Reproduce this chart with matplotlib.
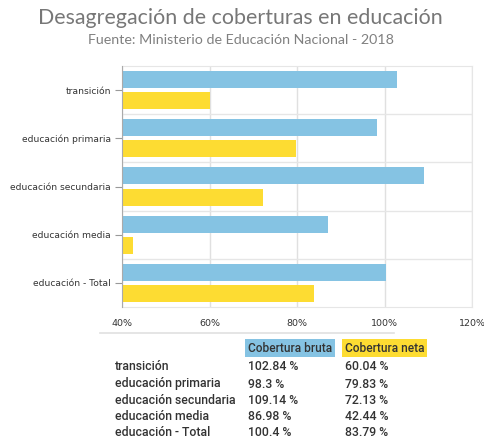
import matplotlib
matplotlib.use("Agg")
import matplotlib.pyplot as plt
import numpy as np

categorias = ["transición", "educación primaria", "educación secundaria",
              "educación media", "educación - Total"]
bruta = [102.84, 98.3, 109.14, 86.98, 100.4]
neta = [60.04, 79.83, 72.13, 42.44, 83.79]
bruta_txt = ["102.84 %", "98.3 %", "109.14 %", "86.98 %", "100.4 %"]
neta_txt = ["60.04 %", "79.83 %", "72.13 %", "42.44 %", "83.79 %"]
ticks_x = [40, 60, 80, 100, 120]

AZUL = "#85c3e3"
AMARILLO = "#fddc32"
W, H = 484, 441

fig = plt.figure(figsize=(W / 100, H / 100), dpi=100)

# titulo
fig.text(240 / W, 1 - 18 / H, "Desagregación de coberturas en educación",
         ha="center", va="center", fontsize=15.4, color="#777777",
         family="Lato")
fig.text(241 / W, 1 - 40 / H, "Fuente: Ministerio de Educación Nacional - 2018",
         ha="center", va="center", fontsize=10.3, color="#808080",
         family="Lato")

# grafico de barras
ax = fig.add_axes([122 / W, 1 - 307 / H, (472 - 122) / W, (307 - 66) / H])
y = np.arange(len(categorias))
h = 0.355
ax.barh(y - 0.22, bruta, height=h, color=AZUL, left=0, zorder=3)
ax.barh(y + 0.22, neta, height=h, color=AMARILLO, left=0, zorder=3)
ax.set_xlim(40, 120)
ax.set_ylim(len(categorias) - 0.5, -0.5)
ax.set_xticks(ticks_x)
ax.set_xticklabels([f"{t}%" for t in ticks_x], fontsize=6.8, color="#333333")
ax.set_yticks(y)
ax.set_yticklabels(categorias, fontsize=6.6, color="#333333")
ax.tick_params(axis="x", length=0, pad=9)
ax.tick_params(axis="y", length=5, color="#999999", pad=3)
ax.set_yticks(np.arange(len(categorias) - 1) + 0.5, minor=True)
ax.tick_params(axis="y", which="minor", length=0)
ax.grid(axis="y", which="minor", color="#e6e6e6", lw=1, zorder=0)
ax.grid(axis="x", which="major", color="#e0e0e0", lw=1, zorder=0)
for s in ["top", "right", "bottom"]:
    ax.spines[s].set_color("#e6e6e6")
ax.spines["left"].set_color("#aaaaaa")
ax.spines["left"].set_zorder(4)

# linea separadora
fig.add_artist(plt.Line2D([100 / W, 394 / W], [1 - 333 / H, 1 - 333 / H],
                          color="#e0e0e0", lw=1.2))

# tabla
fs = 8.8
fig.text(248 / W, 1 - 348 / H, "Cobertura bruta", ha="left", va="center",
         fontsize=8.6, color="#333333", family="Roboto", fontweight="medium",
         bbox=dict(boxstyle="square,pad=0.25", fc=AZUL, ec="none"))
fig.text(345 / W, 1 - 348 / H, "Cobertura neta", ha="left", va="center",
         fontsize=8.6, color="#333333", family="Roboto", fontweight="medium",
         bbox=dict(boxstyle="square,pad=0.25", fc=AMARILLO, ec="none"))
filas_y = [367, 384, 400, 416, 432]
for i, cat in enumerate(categorias):
    yy = 1 - filas_y[i] / H
    fig.text(115 / W, yy, cat, ha="left", va="center", fontsize=fs,
             color="#333333", family="Roboto", fontweight="medium")
    fig.text(248 / W, yy, bruta_txt[i], ha="left", va="center", fontsize=fs,
             color="#333333", family="Roboto", fontweight="medium")
    fig.text(345 / W, yy, neta_txt[i], ha="left", va="center", fontsize=fs,
             color="#333333", family="Roboto", fontweight="medium")

fig.savefig("out.png", dpi=100)
